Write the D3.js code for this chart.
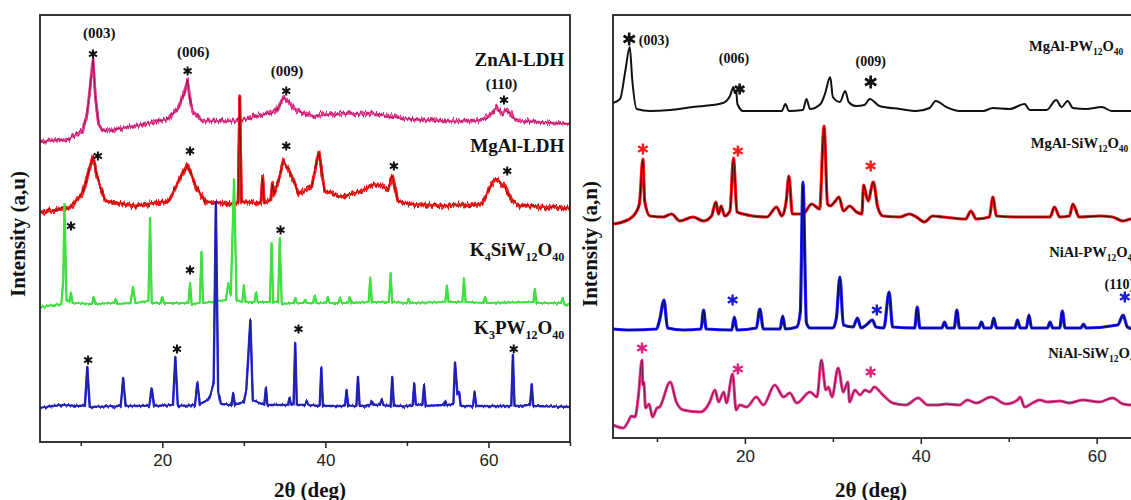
<!DOCTYPE html>
<html>
<head>
<meta charset="utf-8">
<script src="https://cdn.jsdelivr.net/npm/d3@7"></script>
<style>
  html, body { margin: 0; padding: 0; background: #fff; overflow: hidden; }
  svg { display: block; }
</style>
</head>
<body>
<svg id="chart" width="1131" height="500"></svg>
<script>
// ---- data: [2theta, intensity] (intensity in stacked a.u.) ----
const twoThetaDomain = [5, 70];
const majorTicks = [20, 40, 60];
const minorTicks = [10, 30, 50, 70];

// left panel
const znAlLDH = [[5,300],[8.5,303],[10.2,311],[10.7,325],[11.07,348],[11.5,383],[11.8,345],[12.2,318],[12.6,311],[16.7,316],[20.8,323],[22.0,335],[22.65,348],[23.1,363],[23.35,345],[23.7,331],[24.9,321],[29.0,321],[33.8,330],[34.9,345],[36.3,333],[37.9,326],[42.0,328],[46.1,328],[50.2,323],[54.3,321],[58.4,321],[60.0,325],[61.0,335],[61.6,328],[62.3,333],[63.3,323],[63.9,321],[70,318]];
const mgAlLDH = [[5,230],[8.5,233],[10.2,248],[11.0,271],[11.5,285],[12.0,265],[13.0,241],[16.7,236],[20.8,241],[22.0,261],[23.1,278],[24.1,255],[25.3,240],[29.0,238],[29.3,240],[29.5,345],[29.7,240],[30.0,240],[32.1,239],[32.3,266],[32.5,240],[33.3,242],[33.5,260],[33.7,248],[34.3,262],[34.8,281],[35.6,271],[36.7,248],[38.3,255],[39.2,290],[39.9,251],[42.0,245],[44.4,251],[46.1,258],[47.7,253],[48.2,266],[48.9,241],[50.2,238],[54.3,236],[59.2,238],[60.4,258],[61.0,263],[62.0,255],[62.9,241],[63.9,236],[70,234]];
const k4SiW12O40 = [[5,135],[7.6,138],[7.85,160],[8.0,238],[8.25,142],[8.6,140],[8.8,149],[9.0,139],[11.4,138],[11.6,145],[11.8,138],[14.1,139],[14.3,143],[14.5,138],[16.1,139],[16.4,155],[16.7,139],[18.3,141],[18.5,224],[18.7,139],[19.8,139],[20.0,145],[20.2,139],[23.2,139],[23.4,159],[23.6,138],[24.6,139],[24.8,190],[25.0,139],[27.8,142],[28.1,159],[28.4,147],[28.8,263],[29.1,142],[29.8,140],[30.0,157],[30.2,140],[31.3,140],[31.5,150],[31.7,140],[33.2,140],[33.4,199],[33.6,140],[34.2,140],[34.4,204],[34.65,138],[36.1,139],[36.3,144],[36.5,139],[37.3,139],[37.5,142],[37.7,139],[38.5,139],[38.7,146],[38.9,139],[40.1,139],[40.3,145],[40.5,139],[41.6,139],[41.8,144],[42.0,139],[42.8,139],[43.0,145],[43.2,139],[45.3,140],[45.5,164],[45.7,140],[47.8,140],[48.0,169],[48.2,140],[50.0,139],[50.2,143],[50.4,139],[54.7,140],[54.9,157],[55.1,140],[56.8,140],[57.0,164],[57.2,140],[59.4,139],[59.6,145],[59.8,139],[65.5,140],[65.7,153],[65.9,139],[68.9,139],[69.1,144],[69.3,138],[70,137]];
const k3PW12O40 = [[5,34],[7.5,37],[10.5,36],[10.8,75],[11.1,35],[14.9,36],[15.2,64],[15.5,36],[18.4,36],[18.7,54],[19.0,36],[21.3,37],[21.6,85],[21.9,36],[24.0,37],[24.3,59],[24.6,38],[25.6,42],[25.9,47],[26.3,60],[26.57,240],[26.85,50],[27.2,38],[28.5,37],[28.7,49],[28.9,37],[30.0,40],[30.3,52],[30.8,122],[31.1,42],[32.5,37],[32.7,54],[32.9,37],[35.4,37],[35.6,44],[35.8,37],[36.1,38],[36.3,99],[36.5,37],[37.5,37],[37.7,41],[37.9,37],[39.3,36],[39.5,74],[39.7,36],[42.4,36],[42.6,52],[42.8,36],[43.8,36],[44.0,65],[44.2,36],[45.5,37],[45.7,41],[45.9,37],[46.7,37],[46.9,43],[47.1,37],[48.0,36],[48.2,65],[48.4,36],[50.7,36],[50.9,59],[51.1,37],[51.9,37],[52.1,57],[52.3,36],[54.5,37],[54.7,41],[54.9,37],[55.7,38],[55.9,80],[56.2,48],[56.4,50],[56.6,36],[58.1,36],[58.3,50],[58.5,36],[62.8,36],[63.0,87],[63.2,36],[65.1,37],[65.3,58],[65.5,36],[70,35]];

// right panel
const mgAlPW12O40 = [[5,335],[5.8,339],[6.4,367],[6.9,391],[7.2,357],[7.7,329],[9.2,327],[11.5,328],[14.1,331],[15.3,332],[17.5,335],[18.3,342],[18.7,351],[18.85,345],[19.0,347],[19.15,334],[19.8,327],[21.7,327],[24.2,327],[24.6,334],[25.0,327],[26.6,328],[27.0,339],[27.4,329],[28.6,334],[29.1,344],[29.7,361],[30.0,341],[30.8,336],[31.4,347],[31.8,336],[32.6,332],[33.6,333],[34.2,339],[35.3,332],[37.6,329],[39.5,327],[41.0,330],[41.7,337],[42.9,331],[44.4,327],[47.1,327],[48.2,330],[50.1,329],[51.8,334],[52.4,328],[54.3,328],[55.4,338],[56.0,331],[56.7,337],[57.3,330],[58.8,329],[60.6,331],[61.7,327],[70,328]];
const mgAlSiW12O40 = [[5,214],[6.1,216],[7.3,222],[8.0,234],[8.4,279],[8.6,237],[9.2,222],[10.7,221],[11.66,224],[12.6,217],[14.1,221],[15.3,217],[16.2,222],[16.7,236],[17.0,224],[17.3,232],[17.7,222],[18.3,227],[18.7,280],[19.1,226],[19.8,224],[20.9,222],[22.5,221],[23.6,231],[24.2,222],[24.7,237],[25.0,262],[25.4,224],[26.6,224],[27.6,234],[28.5,229],[29.0,312],[29.4,234],[29.7,232],[30.2,236],[30.7,241],[31.2,227],[31.9,232],[32.7,226],[33.3,224],[33.5,253],[34.0,237],[34.6,256],[35.1,231],[35.7,222],[37.6,221],[38.7,224],[39.5,221],[40.4,216],[41.35,222],[42.5,221],[45.1,219],[45.7,227],[46.3,219],[47.8,221],[48.2,241],[48.6,222],[50.8,221],[54.7,221],[55.2,231],[55.8,221],[56.9,222],[57.3,234],[58.0,221],[60.3,222],[61.8,221],[63.0,217],[63.9,219],[70,219]];
const niAlPW12O40 = [[5,109],[6.9,108],[9.95,109],[10.3,118],[10.8,138],[11.2,110],[13.0,108],[15.0,109],[15.3,128],[15.6,109],[18.5,108],[18.8,121],[19.1,108],[21.3,110],[21.7,129],[22.1,109],[24.0,109],[24.3,122],[24.6,109],[25.9,111],[26.3,126],[26.6,256],[27.0,115],[27.4,110],[30.0,110],[30.4,120],[30.8,161],[31.2,113],[32.3,111],[32.8,120],[33.2,110],[33.8,113],[34.5,118],[34.9,111],[35.8,110],[36.4,146],[36.8,111],[39.3,110],[39.6,131],[39.9,110],[42.4,110],[42.7,116],[43.0,110],[43.8,110],[44.1,128],[44.4,110],[46.6,110],[46.9,116],[47.2,110],[48.0,110],[48.3,120],[48.6,110],[50.7,110],[51.0,118],[51.3,110],[52.0,110],[52.3,123],[52.6,110],[54.4,110],[54.7,116],[55.0,110],[55.8,110],[56.1,127],[56.4,110],[58.2,110],[58.5,114],[58.8,110],[62.4,113],[63.0,123],[63.5,111],[64.3,109],[70,108]];
const niAlSiW12O40 = [[5,13],[6.2,10],[6.7,16],[7.1,22],[7.5,21],[7.9,43],[8.3,78],[8.4,53],[8.5,56],[8.7,30],[9.1,34],[9.5,21],[10.0,30],[10.3,31],[11.5,56],[12.2,36],[13.0,28],[14.9,26],[15.6,30],[16.0,36],[16.6,48],[17.0,36],[17.6,46],[17.9,35],[18.6,64],[19.0,28],[19.4,33],[20.2,31],[21.3,41],[22.1,33],[23.4,53],[24.4,41],[25.1,45],[25.9,35],[27.4,46],[28.2,41],[28.7,78],[29.2,48],[29.5,51],[29.9,41],[30.6,70],[31.2,46],[31.7,56],[31.9,36],[32.5,48],[33.1,43],[33.65,48],[34.2,46],[34.7,51],[35.7,43],[36.8,35],[38.3,33],[39.7,40],[40.8,33],[41.9,33],[42.9,34],[44.4,33],[45.3,38],[46.3,35],[48.0,41],[49.7,34],[51.0,38],[51.3,41],[51.8,31],[52.7,35],[53.5,38],[54.4,36],[55.8,37],[56.9,35],[58.4,38],[60.3,36],[61.8,40],[63.0,34],[63.9,33],[70,33]];

// peak markers (*) per pattern
const starsZnAl = [[11.5,388],[23.1,371],[35.2,351],[61.9,342]];
const starsMgAl = [[12.1,286],[23.4,291],[35.2,296],[48.4,276],[62.3,271]];
const starsK4Si = [[8.8,216],[23.4,172],[34.5,212]];
const starsK3P  = [[10.9,82],[21.8,93],[36.7,113],[63.1,93]];
const starsMgAlPW  = [[6.84,399],[19.4,349],[34.3,356]];
const starsMgAlSiW = [[8.4,289],[19.2,287],[34.3,272]];
const starsNiAlPW  = [[18.6,138],[35.0,128],[63.2,141]];
const starsNiAlSiW = [[8.3,90],[19.2,69],[34.3,66]];

// (hkl) reflections
const hklLeft  = [["(003)",12.27,409],["(006)",23.8,390],["(009)",35.3,371],["(110)",61.6,358]];
const hklRight = [["(003)",7.94,398,"start"],["(006)",18.75,380,"middle"],["(009)",34.3,376.5,"middle"],["(110)",60.9,154,"start"]];

// sample names: [main, sub, main, sub...]
const namesLeft = [
  [["ZnAl-LDH"], 69.3, 376],
  [["MgAl-LDH"], 69.3, 290],
  [["K","4","SiW","12","O","40"], 69.3, 186],
  [["K","3","PW","12","O","40"], 69.3, 108]
];
const namesRight = [
  [["MgAl-PW","12","O","40"], 52.3, 387],
  [["MgAl-SiW","12","O","40"], 52.5, 290],
  [["NiAl-PW","12","O","40"], 54.6, 181],
  [["NiAl-SiW","12","O","40"], 54.5, 80]
];

// ---- layout ----
const svg = d3.select("#chart");
const W = 1131, H = 500;
const left  = { x0: 40,  x1: 570,   y0: 15, y1: 442 };
const right = { x0: 613, x1: 1184.6, y0: 15, y1: 438 };

const xL = d3.scaleLinear().domain(twoThetaDomain).range([left.x0, left.x1]);
const yL = d3.scaleLinear().domain([0, left.y1 - left.y0]).range([left.y1, left.y0]);
const xR = d3.scaleLinear().domain(twoThetaDomain).range([right.x0, right.x1]);
const yR = d3.scaleLinear().domain([0, right.y1 - right.y0]).range([right.y1, right.y0]);

const serif = "'Liberation Serif', 'Times New Roman', serif";
const sans = "'Liberation Sans', Arial, sans-serif";

const defs = svg.append("defs");

// vertical jitter filter to mimic the counting noise of the raw scans
function noiseFilter(id, seed, freq, scale) {
  const f = defs.append("filter").attr("id", id)
    .attr("filterUnits", "userSpaceOnUse")
    .attr("x", 0).attr("y", 0).attr("width", W).attr("height", H)
    .attr("color-interpolation-filters", "sRGB");
  f.append("feTurbulence").attr("type", "fractalNoise")
    .attr("baseFrequency", freq).attr("numOctaves", 1).attr("seed", seed).attr("result", "n");
  f.append("feColorMatrix").attr("in", "n").attr("type", "matrix")
    .attr("values", "0 0 0 0 0.5  1 0 0 0 0  0 0 0 0 0  0 0 0 0 1").attr("result", "m");
  f.append("feDisplacementMap").attr("in", "SourceGraphic").attr("in2", "m")
    .attr("scale", scale).attr("xChannelSelector", "R").attr("yChannelSelector", "G");
}
noiseFilter("noiseA", 3, "0.55 0.04", 11);
noiseFilter("noiseB", 11, "0.55 0.04", 11);
noiseFilter("noiseC", 7, "0.5 0.04", 6);

defs.append("clipPath").attr("id", "clipL").append("rect")
  .attr("x", left.x0).attr("y", left.y0).attr("width", left.x1 - left.x0).attr("height", left.y1 - left.y0);
defs.append("clipPath").attr("id", "clipR").append("rect")
  .attr("x", right.x0).attr("y", right.y0).attr("width", right.x1 - right.x0).attr("height", right.y1 - right.y0);

function drawTrace(g, data, x, y, opts) {
  const line = d3.line().x(d => x(d[0])).y(d => y(d[1]))
    .curve(opts.smooth ? d3.curveMonotoneX : d3.curveLinear);
  (opts.layers || []).forEach(l => {
    const p = g.append("path").datum(data)
      .attr("fill", "none")
      .attr("stroke", l.color)
      .attr("stroke-width", l.width)
      .attr("stroke-opacity", l.opacity == null ? 1 : l.opacity)
      .attr("stroke-linejoin", "round")
      .attr("d", line);
    if (l.filter) p.attr("filter", `url(#${l.filter})`);
  });
}

function asterisk(g, cx, cy, r, color, w) {
  let d = "";
  [90, 30, 150].forEach(a => {
    const t = a * Math.PI / 180;
    d += `M${cx + r * Math.cos(t)},${cy - r * Math.sin(t)}L${cx - r * Math.cos(t)},${cy + r * Math.sin(t)}`;
  });
  g.append("path").attr("d", d).attr("stroke", color).attr("stroke-width", w).attr("fill", "none");
}

function drawAxis(panel, x) {
  const g = svg.append("g").attr("transform", `translate(0,${panel.y1})`);
  g.call(d3.axisBottom(x).tickValues(majorTicks).tickSize(6).tickPadding(6))
    .call(s => s.select(".domain").remove());
  g.selectAll(".tick line").attr("stroke", "#222").attr("stroke-width", 1.5);
  g.selectAll(".tick text").attr("fill", "#222")
    .style("font-family", sans).style("font-size", "17px");
  const m = svg.append("g").attr("transform", `translate(0,${panel.y1})`);
  m.call(d3.axisBottom(x).tickValues(minorTicks).tickSize(4).tickFormat(""))
    .call(s => s.select(".domain").remove());
  m.selectAll(".tick line").attr("stroke", "#222").attr("stroke-width", 1.5);
}

function nameLabel(g, parts, x, y, anchor, size, subSize) {
  const t = g.append("text").attr("x", x).attr("y", y)
    .attr("text-anchor", anchor)
    .style("font-family", serif).style("font-weight", "bold")
    .style("font-size", size + "px").attr("fill", "#111");
  const drop = Math.round(size * 0.28);
  parts.forEach((p, i) => {
    const sub = i % 2 === 1;
    const prevSub = i > 0 && (i - 1) % 2 === 1;
    const s = t.append("tspan").text(p);
    if (sub) s.attr("dy", drop).style("font-size", subSize + "px");
    else if (prevSub) s.attr("dy", -drop);
  });
}

// ---- left panel ----
const gL = svg.append("g").attr("clip-path", "url(#clipL)");
drawTrace(gL, znAlLDH, xL, yL, { layers: [
  { color: "#f23b93", width: 1.6 },
  { color: "#f23b93", width: 2.6, filter: "noiseA" },
  { color: "#f23b93", width: 2.6, filter: "noiseB" },
  { color: "#5a1030", width: 0.9, opacity: 0.75, filter: "noiseA" }
]});
drawTrace(gL, mgAlLDH, xL, yL, { layers: [
  { color: "#ff1e1e", width: 1.8 },
  { color: "#ff1e1e", width: 2.8, filter: "noiseA" },
  { color: "#ff1e1e", width: 2.8, filter: "noiseB" },
  { color: "#4a0a0a", width: 0.9, opacity: 0.75, filter: "noiseB" }
]});
drawTrace(gL, k4SiW12O40, xL, yL, { layers: [
  { color: "#3fe03f", width: 2.2, filter: "noiseC" },
  { color: "#3fe03f", width: 1.6 }
]});
drawTrace(gL, k3PW12O40, xL, yL, { layers: [
  { color: "#2a2ad6", width: 2.4, filter: "noiseC" },
  { color: "#2a2ad6", width: 1.6 },
  { color: "#101040", width: 0.7, opacity: 0.6 }
]});

const annL = svg.append("g");
[starsZnAl, starsMgAl, starsK4Si, starsK3P].forEach(arr =>
  arr.forEach(d => asterisk(annL, xL(d[0]), yL(d[1]), 4.6, "#111", 2)));
hklLeft.forEach(d => annL.append("text")
  .attr("x", xL(d[1])).attr("y", yL(d[2])).attr("dy", "0.35em")
  .attr("text-anchor", "middle")
  .style("font-family", serif).style("font-weight", "bold").style("font-size", "15px")
  .attr("fill", "#111").text(d[0]));
namesLeft.forEach(d => nameLabel(annL, d[0], xL(d[1]), yL(d[2]), "end", 19, 12));

svg.append("rect").attr("x", left.x0).attr("y", left.y0)
  .attr("width", left.x1 - left.x0).attr("height", left.y1 - left.y0)
  .attr("fill", "none").attr("stroke", "#222").attr("stroke-width", 1.8);
drawAxis(left, xL);

// ---- right panel ----
const gR = svg.append("g").attr("clip-path", "url(#clipR)");
drawTrace(gR, mgAlPW12O40, xR, yR, { smooth: true, layers: [
  { color: "#111", width: 2 }
]});
drawTrace(gR, mgAlSiW12O40, xR, yR, { smooth: true, layers: [
  { color: "#ff1010", width: 3.2 },
  { color: "#1a0000", width: 1.1, opacity: 0.85 }
]});
drawTrace(gR, niAlPW12O40, xR, yR, { smooth: true, layers: [
  { color: "#1a1aff", width: 3.2 },
  { color: "#00002a", width: 1.1, opacity: 0.85 }
]});
drawTrace(gR, niAlSiW12O40, xR, yR, { smooth: true, layers: [
  { color: "#f0348f", width: 3 },
  { color: "#5a1030", width: 1, opacity: 0.8 }
]});

const annR = svg.append("g");
starsMgAlPW.forEach((d, i) => asterisk(annR, xR(d[0]), yR(d[1]), i === 1 ? 5.5 : 6.5, "#111", 2.6));
starsMgAlSiW.forEach(d => asterisk(annR, xR(d[0]), yR(d[1]), 5.5, "#ff1a1a", 2.4));
starsNiAlPW.forEach(d => asterisk(annR, xR(d[0]), yR(d[1]), 5.5, "#1a1ad8", 2.4));
starsNiAlSiW.forEach(d => asterisk(annR, xR(d[0]), yR(d[1]), 5.5, "#e0207f", 2.4));
hklRight.forEach(d => annR.append("text")
  .attr("x", xR(d[1])).attr("y", yR(d[2])).attr("dy", "0.35em")
  .attr("text-anchor", d[3])
  .style("font-family", serif).style("font-weight", "bold").style("font-size", "14px")
  .attr("fill", "#111").text(d[0]));
namesRight.forEach(d => nameLabel(annR, d[0], xR(d[1]), yR(d[2]), "start", 14.6, 9.5));

svg.append("rect").attr("x", right.x0).attr("y", right.y0)
  .attr("width", right.x1 - right.x0).attr("height", right.y1 - right.y0)
  .attr("fill", "none").attr("stroke", "#222").attr("stroke-width", 1.8);
drawAxis(right, xR);

// ---- axis titles ----
function yTitle(x, y, txt) {
  svg.append("text").attr("transform", `translate(${x},${y}) rotate(-90)`)
    .attr("text-anchor", "middle").attr("dy", "0.35em")
    .style("font-family", serif).style("font-weight", "bold").style("font-size", "21px")
    .attr("fill", "#111").text(txt);
}
yTitle(18, 234, "Intensity (a,u)");
yTitle(590, 244, "Intensity (a,n)");

function xTitle(x, txt) {
  svg.append("text").attr("x", x).attr("y", 497).attr("text-anchor", "middle")
    .style("font-family", serif).style("font-weight", "bold").style("font-size", "21px")
    .attr("fill", "#111").text(txt);
}
xTitle(310, "2θ (deg)");
xTitle(871, "2θ (deg)");
</script>
</body>
</html>
